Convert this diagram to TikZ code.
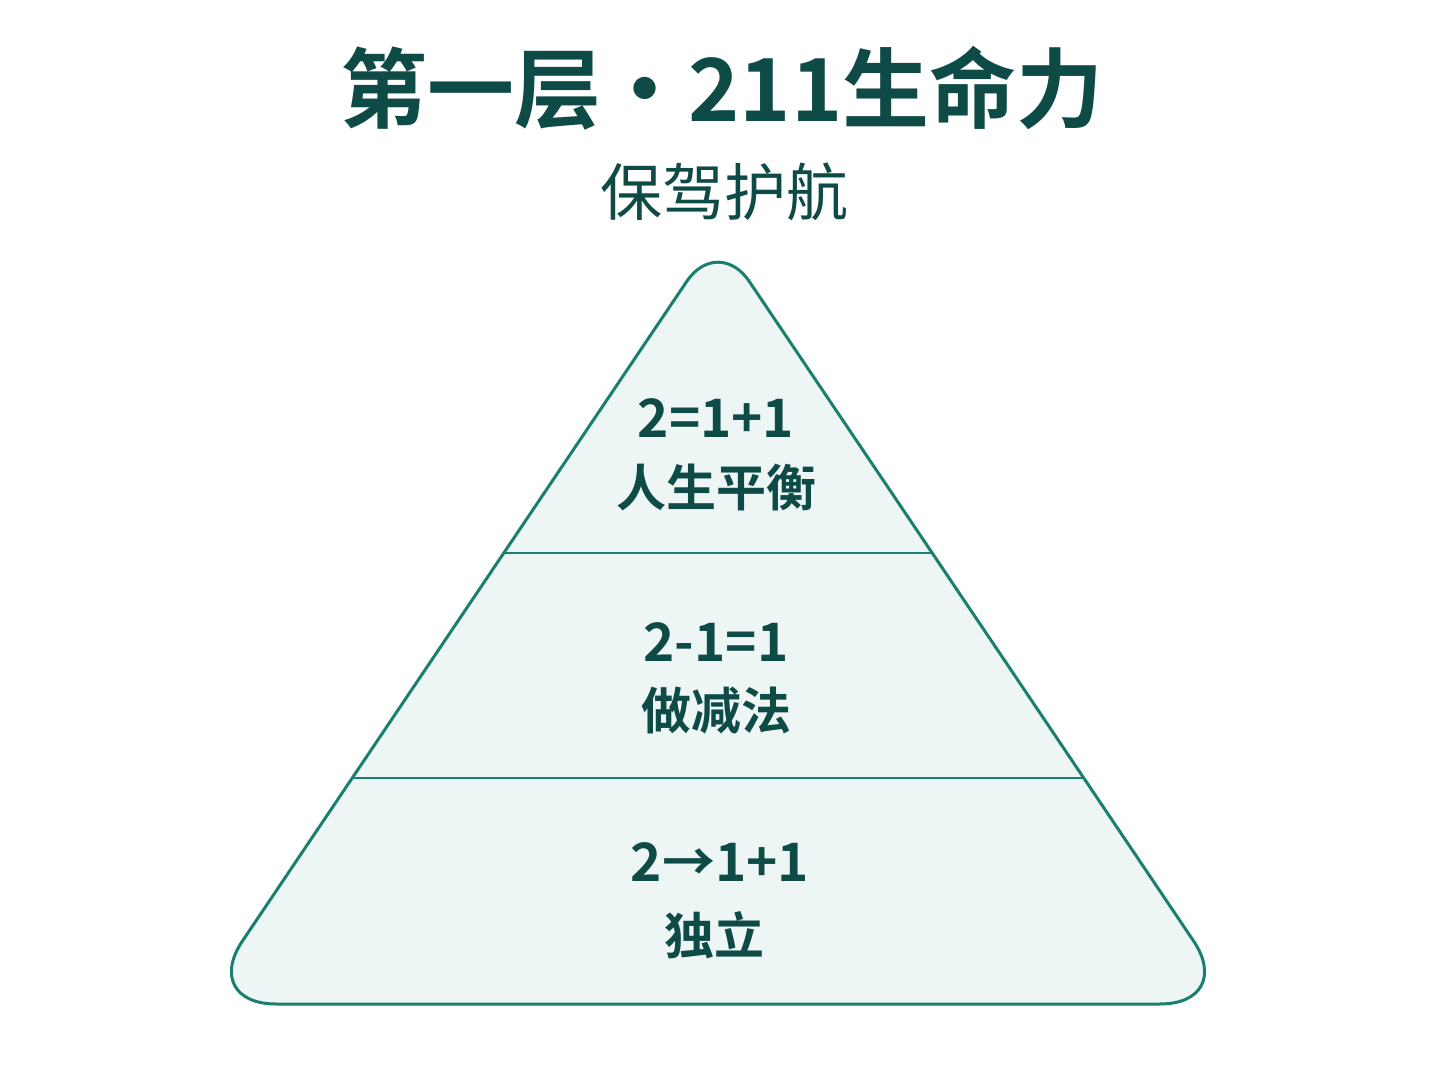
\documentclass[tikz,border=0pt]{standalone}
\usepackage{fontspec}
\setmainfont{Noto Sans CJK SC}
\newfontfamily\boldcjk{Noto Sans CJK SC Bold}
\usetikzlibrary{positioning,calc}
\definecolor{ink}{HTML}{0E4B46}
\definecolor{edge}{HTML}{1A7F6E}
\definecolor{mint}{HTML}{EDF6F5}

\begin{document}
\begin{tikzpicture}[
    x=0.5pt,y=-0.5pt,
    heading/.style={%
      font=\boldcjk\fontsize{43.5}{50}\selectfont,
      text=ink,
      inner sep=0pt,
    },
    subheading/.style={%
      font=\fontsize{31}{36}\selectfont,
      text=ink,
      inner sep=0pt,
    },
    pyramid/.style={%
      draw=edge,
      fill=mint,
      line width=1.5pt,
    },
    divider/.style={%
      draw=edge,
      line width=1.2pt,
    },
    eqn/.style={%
      font=\boldcjk\fontsize{26.5}{30}\selectfont,
      text=ink,
      inner sep=0pt,
    },
    word/.style={%
      font=\boldcjk\fontsize{25}{30}\selectfont,
      text=ink,
      inner sep=0pt,
    },
  ]

    \fill [white] (0,0) rectangle (1448,1086);
    \useasboundingbox (0,0) rectangle (1448,1086);

    \node [heading] (title) at (722,88) {第一层·211生命力};
    \node [subheading] (sub) at (724,192) {保驾护航};

    % outline
    \coordinate (top) at (718,235);
    \coordinate (bl) at (200,1004);
    \coordinate (br) at (1236,1004);
    \coordinate (bm) at (718,1004);
    \draw [pyramid] (bm) [rounded corners=38pt] -- (bl)
      [rounded corners=28pt] -- (top)
      [rounded corners=38pt] -- (br) -- cycle;

    % tiers
    \coordinate (d1l) at ($(bl)!0.5865!(top)$);
    \coordinate (d1r) at ($(br)!0.5865!(top)$);
    \coordinate (d2l) at ($(bl)!0.2939!(top)$);
    \coordinate (d2r) at ($(br)!0.2939!(top)$);
    \draw [divider] (d1l) -- (d1r);
    \draw [divider] (d2l) -- (d2r);

    \node [eqn] (eqA) at (716,418) {2=1+1};
    \node [word] (wordA) at (716,487) {人生平衡};
    \node [eqn] (eqB) at (716,642) {2-1=1};
    \node [word] (wordB) at (716,711) {做减法};
    \node [eqn] (eqC) at (720,862) {2→1+1};
    \node [word] (wordC) at (714,935) {独立};
\end{tikzpicture}
\end{document}
